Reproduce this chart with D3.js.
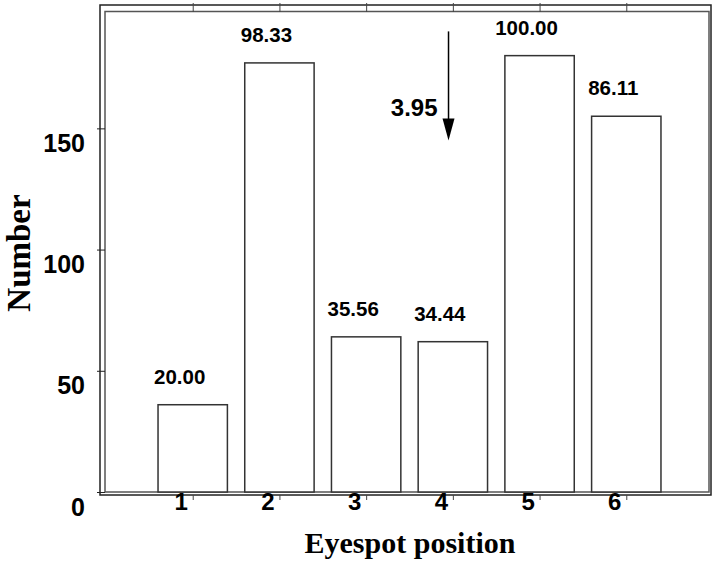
<!DOCTYPE html>
<html>
<head>
<meta charset="utf-8">
<script src="https://cdn.jsdelivr.net/npm/d3@7"></script>
<style>
  body { margin: 0; background: #fff; }
  svg { display: block; }
</style>
</head>
<body>
<div id="app"></div>
<script>
let positions = [1, 2, 3, 4, 5, 6];
let counts = [36, 177, 64, 62, 180, 155];
let percents = ['20.00', '98.33', '35.56', '34.44', '100.00', '86.11'];
let yTicks = [0, 50, 100, 150];
let meanPos = 3.95;
let arrowFrom = 190, arrowTo = 145;

let width = 712;
let height = 563;

let x = d3.scaleLinear()
          .domain([0, 7])
          .range([106, 713])

let y = d3.scaleLinear()
          .domain([0, 198])
          .range([492, 12])

let svg = d3.select('#app').append('svg')
    .attr('width', width)
    .attr('height', height)
    .style('background', '#fff')

// frame: outer black box and inner grey box
svg.append('rect')
    .attr('x', 100).attr('y', 5)
    .attr('width', 611).attr('height', 490)
    .attr('fill', 'none')
    .attr('stroke', '#222')
    .attr('stroke-width', 1.5)

svg.append('rect')
    .attr('x', 105).attr('y', 11.5)
    .attr('width', 604).attr('height', 480.5)
    .attr('fill', 'none')
    .attr('stroke', '#555')
    .attr('stroke-width', 1.5)

// bars
let bw = x(0.4) - x(0);
svg.selectAll('rect.bar')
  .data(counts)
  .enter()
  .append('rect')
    .attr('class', 'bar')
    .attr('x', (d, i) => x(positions[i]) - bw)
    .attr('y', d => y(d))
    .attr('width', bw * 2)
    .attr('height', d => y(0) - y(d))
    .attr('fill', '#fff')
    .attr('stroke', '#333')
    .attr('stroke-width', 1.5)

// value labels
svg.selectAll('text.pct')
  .data(counts)
  .enter()
  .append('text')
    .attr('class', 'pct')
    .attr('x', (d, i) => x(positions[i]) - 13)
    .attr('y', d => y(d) - 21)
    .attr('text-anchor', 'middle')
    .style('font-family', "'Liberation Sans', Arial, sans-serif")
    .style('font-weight', 'bold')
    .style('font-size', '20.5px')
    .text((d, i) => percents[i])

// y axis
let yAxis = svg.append('g')
    .attr('transform', 'translate(100,0)')
    .call(d3.axisLeft(y).tickValues(yTicks).tickSize(3).tickFormat(d3.format('d')))
yAxis.select('.domain').remove()
yAxis.selectAll('.tick line').attr('x1', 5).attr('stroke', '#222')
yAxis.selectAll('.tick text')
    .attr('x', -15)
    .attr('y', 15)
    .style('font-family', "'Liberation Sans', Arial, sans-serif")
    .style('font-weight', 'bold')
    .style('font-size', '25px')
    .attr('fill', '#000')

// x axis
let xAxis = svg.append('g')
    .attr('transform', 'translate(0,495)')
    .call(d3.axisBottom(x).tickValues(positions).tickSize(5).tickFormat(d3.format('d')))
xAxis.select('.domain').remove()
xAxis.selectAll('.tick line').attr('stroke', '#444')
xAxis.selectAll('.tick text')
    .attr('x', -12)
    .attr('y', -2)
    .style('font-family', "'Liberation Sans', Arial, sans-serif")
    .style('font-weight', 'bold')
    .style('font-size', '24px')
    .attr('fill', '#000')

// top ticks
let topAxis = svg.append('g')
    .attr('transform', 'translate(0,12)')
    .call(d3.axisTop(x).tickValues(positions).tickSize(9).tickFormat(''))
topAxis.select('.domain').remove()
topAxis.selectAll('.tick line').attr('stroke', '#444')

// mean position arrow
let ax = x(meanPos);
svg.append('line')
    .attr('x1', ax).attr('x2', ax)
    .attr('y1', y(arrowFrom)).attr('y2', y(arrowTo) - 20)
    .attr('stroke', '#000')
    .attr('stroke-width', 1.5)
svg.append('path')
    .attr('d', `M${ax - 6},${y(arrowTo) - 22} L${ax + 6},${y(arrowTo) - 22} L${ax},${y(arrowTo)} Z`)
    .attr('fill', '#000')
svg.append('text')
    .attr('x', ax - 11)
    .attr('y', 116)
    .attr('text-anchor', 'end')
    .style('font-family', "'Liberation Sans', Arial, sans-serif")
    .style('font-weight', 'bold')
    .style('font-size', '24px')
    .text(meanPos.toFixed(2))

// axis titles
svg.append('text')
    .attr('x', 410)
    .attr('y', 553)
    .attr('text-anchor', 'middle')
    .style('font-family', "'Liberation Serif', 'Times New Roman', serif")
    .style('font-weight', 'bold')
    .style('font-size', '30px')
    .text('Eyespot position')

svg.append('text')
    .attr('transform', 'translate(30,253) rotate(-90)')
    .attr('text-anchor', 'middle')
    .style('font-family', "'Liberation Serif', 'Times New Roman', serif")
    .style('font-weight', 'bold')
    .style('font-size', '33px')
    .text('Number')
</script>
</body>
</html>
